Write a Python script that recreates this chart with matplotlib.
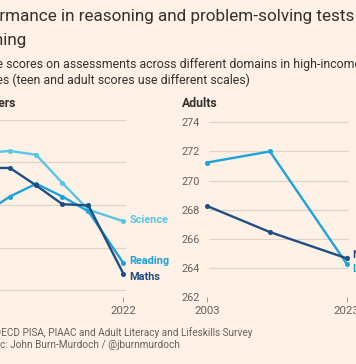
import matplotlib.pyplot as plt

# Colours and fonts (FT style)
bg_colour     = '#FFF1E5'
grid_colour   = '#DFD2C7'
text_dark     = '#33302E'
text_grey     = '#66605C'
maths_colour  = '#1F4E85'
read_colour   = '#1BA3DE'
sci_colour    = '#55C6E6'

plt.rcParams['font.family'] = ['Roboto', 'DejaVu Sans']

# Teenagers: OECD PISA averages, high-income countries
years_teen   = [2006, 2009, 2012, 2015, 2018, 2022]
maths_teen   = [498.7, 498.7, 494.6, 490.2, 489.9, 473.9]
reading_teen = [488.0, 492.0, 495.0, 492.0, 488.5, 476.4]
science_teen = [502.2, 502.7, 501.8, 495.2, 488.9, 486.2]
teen_yticks  = [470, 480, 490, 500, 510]
teen_xticks  = [2006, 2022]

# Adults: ALL / PIAAC
years_adult    = [2003, 2012, 2023]
literacy_adult = [271.24, 272.0, 264.28]
numeracy_adult = [268.25, 266.46, 264.66]
adult_yticks   = [262, 264, 266, 268, 270, 272, 274]
adult_xticks   = [2003, 2023]

W, H = 356, 364
fig = plt.figure(figsize=(W / 100, H / 100), dpi=100)
fig.patch.set_facecolor(bg_colour)


def box(x0, y_top, x1, y_bottom):
    # pixel box (from top-left) -> figure fraction
    return [x0 / W, 1 - y_bottom / H, (x1 - x0) / W, (y_bottom - y_top) / H]


def ftext(x, y, s, **kw):
    fig.text(x / W, 1 - y / H, s, va='baseline', **kw)


def style_axes(ax, yticks, xticks, grid_x0, grid_x1):
    ax.set_facecolor(bg_colour)
    for s in ax.spines.values():
        s.set_visible(False)
    ax.hlines(yticks, grid_x0, grid_x1, colors=grid_colour, linewidth=0.9, zorder=0)
    ax.set_yticks(yticks)
    ax.set_xticks(xticks)
    ax.tick_params(axis='y', length=0, pad=3, labelsize=7.8, labelcolor=text_grey)
    ax.tick_params(axis='x', length=3.3, width=0.7, color='#9E958D', pad=3,
                   labelsize=8.2, labelcolor=text_grey)


left_margin = -42

# Left panel (teenagers)
ax1 = fig.add_axes(box(-19.6, 119, 125.9, 297))
ax1.set_xlim(2005.6, 2022.3)
ax1.set_ylim(468.4, 510.2)
style_axes(ax1, teen_yticks, teen_xticks, 2006.26, 2022.3)

for vals, col, name, dy in [(science_teen, sci_colour, 'Science', 1),
                            (reading_teen, read_colour, 'Reading', 1.7),
                            (maths_teen, maths_colour, 'Maths', -3.4)]:
    ax1.plot(years_teen, vals, color=col, linewidth=1.7, marker='o', markersize=2.6,
             clip_on=False, zorder=3)
    ax1.annotate(name, xy=(years_teen[-1], vals[-1]), xytext=(6, dy),
                 textcoords='offset pixels', va='center', ha='left',
                 color=col, fontsize=7.8, fontweight='bold')

# Right panel (adults)
ax2 = fig.add_axes(box(204, 119, 349.3, 297))
ax2.set_xlim(2002.55, 2023.37)
ax2.set_ylim(262, 274.23)
style_axes(ax2, adult_yticks, adult_xticks, 2003.33, 2023.37)

for vals, col, name, dy in [(literacy_adult, read_colour, 'Literacy', -4.7),
                            (numeracy_adult, maths_colour, 'Numeracy', 3.7)]:
    ax2.plot(years_adult, vals, color=col, linewidth=1.7, marker='o', markersize=2.6,
             clip_on=False, zorder=3)
    ax2.annotate(name, xy=(years_adult[-1], vals[-1]), xytext=(6, dy),
                 textcoords='offset pixels', va='center', ha='left',
                 color=col, fontsize=7.8, fontweight='bold')

# Titles and notes
ftext(left_margin, 20.5, 'Performance in reasoning and problem-solving tests',
      fontsize=12.3, color=text_dark)
ftext(left_margin, 45, 'declining', fontsize=12.3, color=text_dark)
ftext(left_margin, 68.3, 'Average scores on assessments across different domains in high-income',
      fontsize=8.9, color=text_dark)
ftext(left_margin, 84, 'countries (teen and adult scores use different scales)',
      fontsize=8.9, color=text_dark)
ftext(left_margin, 107.3, 'Teenagers', fontsize=8.8, fontweight='bold', color=text_dark)
ftext(181.7, 107.3, 'Adults', fontsize=8.8, fontweight='bold', color=text_dark)
ftext(left_margin, 336, 'Source: OECD PISA, PIAAC and Adult Literacy and Lifeskills Survey',
      fontsize=7.2, color=text_grey)
ftext(left_margin, 347.7, 'FT graphic: John Burn-Murdoch / @jburnmurdoch',
      fontsize=7.2, color=text_grey)

fig.savefig('out.png', dpi=100, facecolor=bg_colour)
